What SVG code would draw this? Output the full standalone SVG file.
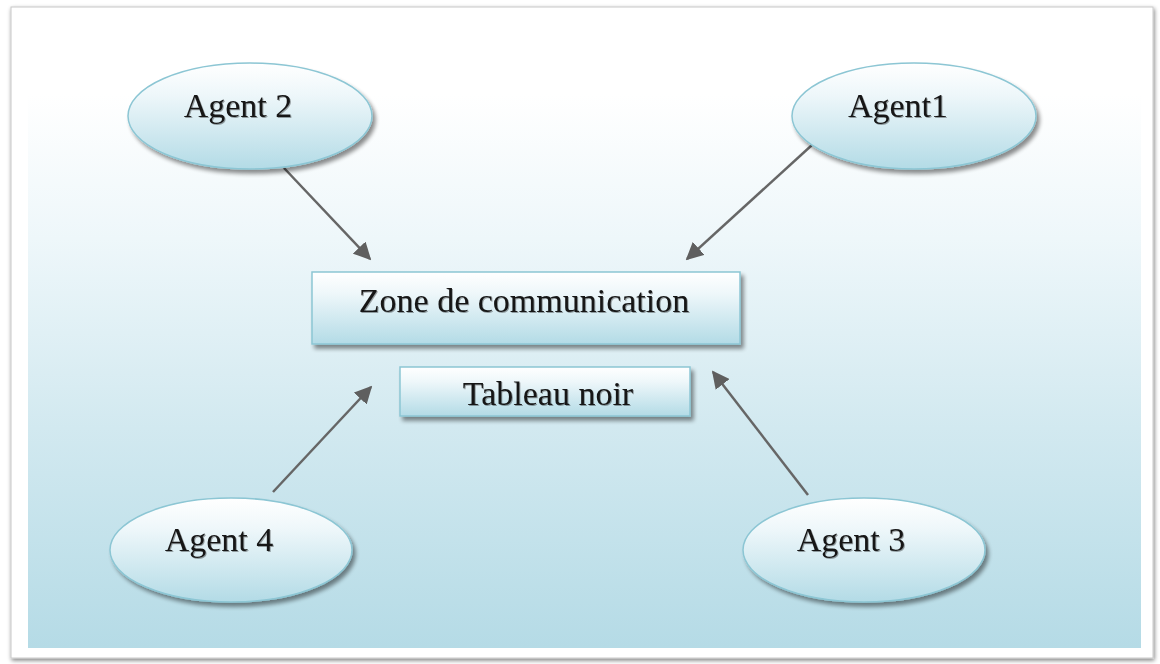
<svg xmlns="http://www.w3.org/2000/svg" width="1160" height="664" viewBox="0 0 1160 664">
  <defs>
    <linearGradient id="bg" x1="0" y1="0" x2="0" y2="1">
      <stop offset="0" stop-color="#ffffff"/>
      <stop offset="0.12" stop-color="#ffffff"/>
      <stop offset="0.35" stop-color="#eef7fa"/>
      <stop offset="0.65" stop-color="#d2e9f0"/>
      <stop offset="1" stop-color="#b5dbe6"/>
    </linearGradient>
    <linearGradient id="shape" x1="0" y1="0" x2="0" y2="1">
      <stop offset="0" stop-color="#ffffff"/>
      <stop offset="0.3" stop-color="#eef7fa"/>
      <stop offset="1" stop-color="#b3dbe6"/>
    </linearGradient>
    <filter id="drop" x="-20%" y="-20%" width="140%" height="150%">
      <feGaussianBlur in="SourceAlpha" stdDeviation="2"/>
      <feOffset dx="3" dy="4" result="b"/>
      <feComponentTransfer><feFuncA type="linear" slope="0.45"/></feComponentTransfer>
      <feMerge><feMergeNode/><feMergeNode in="SourceGraphic"/></feMerge>
    </filter>
    <filter id="textshade" x="-10%" y="-20%" width="120%" height="140%">
      <feGaussianBlur in="SourceAlpha" stdDeviation="0.6"/>
      <feOffset dx="1" dy="1"/>
      <feComponentTransfer><feFuncA type="linear" slope="0.35"/></feComponentTransfer>
      <feMerge><feMergeNode/><feMergeNode in="SourceGraphic"/></feMerge>
    </filter>
    <filter id="page" x="-5%" y="-5%" width="110%" height="110%">
      <feGaussianBlur in="SourceAlpha" stdDeviation="2"/>
      <feOffset dx="1" dy="2"/>
      <feComponentTransfer><feFuncA type="linear" slope="0.5"/></feComponentTransfer>
      <feMerge><feMergeNode/><feMergeNode in="SourceGraphic"/></feMerge>
    </filter>
    <marker id="head" viewBox="0 0 10 10" refX="9" refY="5" markerWidth="7" markerHeight="7" orient="auto" markerUnits="strokeWidth">
      <path d="M0,0 L10,5 L0,10 z" fill="#5f5f5f"/>
    </marker>
    <style>
      .node { fill: url(#shape); stroke: #8cc6d4; stroke-width: 1.5; filter: url(#drop); }
      .label { font-family: "Liberation Serif", "Times New Roman", serif; font-size: 34px; fill: #141414; text-anchor: middle; filter: url(#textshade); }
      .link { stroke: #666666; stroke-width: 2.5; fill: none; marker-end: url(#head); }
    </style>
  </defs>

  <!-- page and background -->
  <rect x="0" y="0" width="1160" height="664" fill="#ffffff"/>
  <rect x="11" y="7" width="1142" height="651" fill="#ffffff" stroke="#c8c8c8" stroke-width="1" filter="url(#page)"/>
  <rect x="28" y="18" width="1113" height="630" fill="url(#bg)"/>

  <!-- connectors -->
  <g id="connectors">
    <line class="link" x1="284" y1="168" x2="370" y2="259"/>
    <line class="link" x1="812" y1="145" x2="687" y2="259"/>
    <line class="link" x1="273" y1="492" x2="371" y2="387"/>
    <line class="link" x1="808" y1="495" x2="713" y2="372"/>
  </g>

  <g id="agent2">
    <ellipse class="node" cx="250" cy="116" rx="122" ry="53"/>
    <text class="label" x="238" y="117">Agent 2</text>
  </g>
  <g id="agent1">
    <ellipse class="node" cx="914" cy="116" rx="122" ry="53"/>
    <text class="label" x="898" y="117">Agent1</text>
  </g>
  <g id="agent4">
    <ellipse class="node" cx="231" cy="550" rx="121" ry="52"/>
    <text class="label" x="219" y="551">Agent 4</text>
  </g>
  <g id="agent3">
    <ellipse class="node" cx="864" cy="550" rx="121" ry="52"/>
    <text class="label" x="851" y="551">Agent 3</text>
  </g>
  <g id="zone">
    <rect class="node" x="312" y="272" width="428" height="72"/>
    <text class="label" x="524" y="312">Zone de communication</text>
  </g>
  <g id="tableau">
    <rect class="node" x="400" y="367" width="290" height="49"/>
    <text class="label" x="548" y="405">Tableau noir</text>
  </g>
</svg>
